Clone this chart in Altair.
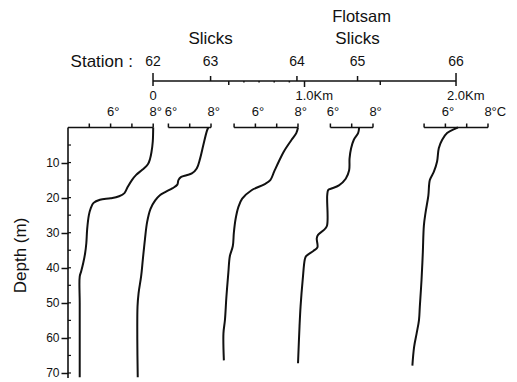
import altair as alt
import pandas as pd

# ------------------------------------------------------------------ data
STATIONS = ["62", "63", "64", "65", "66"]
STATION_KM = [0.0, 0.38, 0.95, 1.35, 2.0]

DEPTH_62 = [0, 4, 7, 9, 10.5, 12, 13.5, 15, 17, 18.7, 19.6, 20.2, 20.6, 21.5, 23, 25, 29, 33, 36, 38.5, 41, 42.5, 50, 60, 71.2]
TEMP_62 = [8.0, 7.98, 7.92, 7.85, 7.75, 7.5, 7.2, 7.0, 6.8, 6.65, 6.4, 6.0, 5.5, 5.2, 5.07, 4.98, 4.9, 4.86, 4.8, 4.72, 4.62, 4.55, 4.55, 4.55, 4.55]

DEPTH_63 = [0, 1.1, 5, 8.8, 11.7, 13.1, 13.6, 14.1, 15.0, 16.3, 17.3, 18.4, 19.3, 20.8, 23.2, 27, 31.8, 37.6, 42.4, 47.2, 51, 60.6, 71.2]
TEMP_63 = [7.87, 7.8, 7.64, 7.49, 7.33, 7.1, 6.85, 6.6, 6.47, 6.42, 6.2, 5.85, 5.6, 5.38, 5.16, 5.0, 4.9, 4.8, 4.72, 4.6, 4.55, 4.54, 4.56]

DEPTH_64 = [0, 1.6, 3.5, 6.9, 9.7, 12.6, 15, 16.2, 17.9, 20.3, 22.7, 26.1, 29.9, 33.8, 36.7, 41.4, 48.2, 54.9, 58.7, 66.4]
TEMP_64 = [8.0, 7.92, 7.7, 7.33, 7.1, 6.88, 6.7, 6.42, 5.82, 5.38, 5.2, 5.07, 4.99, 4.94, 4.8, 4.73, 4.64, 4.57, 4.5, 4.52]

DEPTH_65 = [0, 1.6, 3.5, 6, 8.8, 12.2, 14.6, 16.5, 17.4, 17.8, 19.4, 28, 29.2, 30.6, 31.6, 34.2, 35.2, 36.7, 37.6, 43.4, 51, 56.8, 67.2]
TEMP_65 = [7.35, 7.3, 7.1, 6.97, 6.9, 6.88, 6.72, 6.4, 6.05, 5.9, 5.85, 5.84, 5.7, 5.42, 5.36, 5.39, 5.2, 4.86, 4.8, 4.7, 4.6, 4.55, 4.48]

DEPTH_66 = [0, 0.3, 1.6, 3.5, 5.9, 9.7, 12.6, 15, 19.4, 24.2, 28, 35.7, 43.4, 51, 54.9, 58.7, 62.6, 67.9]
TEMP_66 = [6.59, 6.47, 6.08, 5.85, 5.69, 5.61, 5.46, 5.27, 5.2, 5.07, 4.99, 4.94, 4.88, 4.8, 4.76, 4.65, 4.53, 4.45]

TEMP_AXIS_MIN = [4, 6, 5, 6, 5]
TEMP_AXIS_MAX = [8, 8, 8, 8, 8]
TEMP_TICKS = [[5, 6, 7, 8], [6, 7, 8], [5, 6, 7, 8], [6, 7, 8], [5, 6, 7, 8]]
TEMP_LABEL_VALUES = [6, 8]
TEMP_LABEL_TEXT = ["6°", "8°"]
LAST_LABEL_TEXT = ["6°", "8°C"]

DEPTH_TICKS = [10, 20, 30, 40, 50, 60, 70]
DEPTH_MINOR = [5, 10, 15, 20, 25, 30, 35, 40, 45, 50, 55, 60, 65, 70]

KM_END_TICKS = [0.0, 2.0]
KM_HALF_TICKS = [0.5, 1.5]
KM_ONE_TICK = [1.0]
KM_SMALL_TICKS = [0.6, 0.7, 0.8, 0.9]
KM_ZERO_LABEL = ["0"]
KM_LABEL_VALUES = [1.0, 2.0]
KM_LABEL_TEXT = ["1.0Km", "2.0Km"]

GROUP_LABELS = ["Slicks", "Slicks", "Flotsam"]
GROUP_STATION = [1, 3, 3]

# ------------------------------------------------------------------ layout
FONT = "Liberation Sans"
INK = "#111111"
PX_PER_DEG = 21.3
PLOT_W, PLOT_H = 432, 370
X_MAX = PLOT_W / PX_PER_DEG
Y_TOP, Y_BOTTOM = -34.07, 71.43
PX_PER_M = PLOT_H / (Y_BOTTOM - Y_TOP)
OFFSETS = [-4.0, -1.286, 2.798, 6.319, 11.718]
KM_ORIGIN = 3.991
KM_UNITS = 7.113
KM_AXIS_Y = -13.26
KM_LABEL_Y = -8.98
STATION_ROW_Y = -18.68
SLICKS_Y = -25.09
FLOTSAM_Y = -31.6
TEMP_LABEL_Y = -4.42
STATION_WORD_X = 3.05


def px(n):
    return n / PX_PER_M


def km_u(k):
    return KM_ORIGIN + KM_UNITS * k


XS = alt.Scale(domain=[0, X_MAX], nice=False, zero=False)
YS = alt.Scale(domain=[Y_TOP, Y_BOTTOM], reverse=True, nice=False, zero=False)
YAXIS = alt.Axis(values=DEPTH_TICKS, title="Depth (m)", domain=False, grid=False,
                 tickSize=7, tickWidth=1.5, tickColor=INK, labelColor=INK,
                 labelFont=FONT, labelFontSize=12, labelPadding=2,
                 titleFont=FONT, titleFontSize=17, titleFontWeight="normal",
                 titleColor=INK, titleAngle=270, titleX=-47.5, titleY=247,
                 titleAlign="center", titleBaseline="middle")


def X(f):
    return alt.X(f + ":Q", scale=XS, axis=None)


def Y(f):
    return alt.Y(f + ":Q", scale=YS, axis=YAXIS)


# ------------------------------------------------------------------ tables
depths = [DEPTH_62, DEPTH_63, DEPTH_64, DEPTH_65, DEPTH_66]
temps = [TEMP_62, TEMP_63, TEMP_64, TEMP_65, TEMP_66]
rows = []
for i, s in enumerate(STATIONS):
    for j, (d, t) in enumerate(zip(depths[i], temps[i])):
        rows.append({"station": s, "seq": j, "depth": d, "u": t + OFFSETS[i]})
curves = pd.DataFrame(rows)

taxis = pd.DataFrame([{"u": TEMP_AXIS_MIN[i] + OFFSETS[i], "u2": TEMP_AXIS_MAX[i] + OFFSETS[i], "y": 0}
                      for i in range(len(STATIONS))])
tticks = pd.DataFrame([{"u": t + OFFSETS[i], "y": 0, "y2": -px(4)}
                       for i in range(len(STATIONS)) for t in TEMP_TICKS[i]])
tlabels = pd.DataFrame([{"u": v + OFFSETS[i], "y": TEMP_LABEL_Y,
                         "label": (LAST_LABEL_TEXT if i == len(STATIONS) - 1 else TEMP_LABEL_TEXT)[k]}
                        for i in range(len(STATIONS)) for k, v in enumerate(TEMP_LABEL_VALUES)])

daxis = pd.DataFrame([{"u": 0, "y": 0, "y2": Y_BOTTOM}])
dminor = pd.DataFrame([{"u": 0, "u2": 3 / PX_PER_DEG, "y": d} for d in DEPTH_MINOR])

kaxis = pd.DataFrame([{"u": km_u(0), "u2": km_u(2.0), "y": KM_AXIS_Y}])
kt = []
for k in KM_END_TICKS:
    kt.append({"u": km_u(k), "y": KM_AXIS_Y - px(8), "y2": KM_AXIS_Y + px(5)})
for k in KM_HALF_TICKS:
    kt.append({"u": km_u(k), "y": KM_AXIS_Y, "y2": KM_AXIS_Y + px(4)})
for k in KM_ONE_TICK:
    kt.append({"u": km_u(k), "y": KM_AXIS_Y, "y2": KM_AXIS_Y + px(6)})
for k in KM_SMALL_TICKS:
    kt.append({"u": km_u(k), "y": KM_AXIS_Y, "y2": KM_AXIS_Y + px(1.5)})
for k in STATION_KM[1:4]:
    kt.append({"u": km_u(k), "y": KM_AXIS_Y - px(5), "y2": KM_AXIS_Y})
kticks = pd.DataFrame(kt)

kzero = pd.DataFrame([{"u": km_u(0), "y": KM_LABEL_Y, "label": KM_ZERO_LABEL[0]}])
klabels = pd.DataFrame([{"u": km_u(k), "y": KM_LABEL_Y, "label": t}
                        for k, t in zip(KM_LABEL_VALUES, KM_LABEL_TEXT)])
slabels = pd.DataFrame([{"u": km_u(k), "y": STATION_ROW_Y, "label": s}
                        for k, s in zip(STATION_KM, STATIONS)])
sword = pd.DataFrame([{"u": STATION_WORD_X, "y": STATION_ROW_Y, "label": "Station :"}])
glabels = pd.DataFrame([{"u": km_u(STATION_KM[GROUP_STATION[i]]),
                         "y": FLOTSAM_Y if GROUP_LABELS[i] == "Flotsam" else SLICKS_Y,
                         "label": GROUP_LABELS[i]} for i in range(len(GROUP_LABELS))])
slicks = glabels[glabels.label == "Slicks"]
flotsam = glabels[glabels.label == "Flotsam"]

# ------------------------------------------------------------------ layers
line = alt.Chart(curves).mark_line(color=INK, strokeWidth=2, interpolate="catmull-rom").encode(
    x=X("u"), y=Y("depth"), detail="station:N", order="seq:Q")


def hrule(df, w=1.6):
    return alt.Chart(df).mark_rule(color=INK, strokeWidth=w).encode(x=X("u"), x2="u2:Q", y=Y("y"))


def vrule(df, w=1.5):
    return alt.Chart(df).mark_rule(color=INK, strokeWidth=w).encode(x=X("u"), y=Y("y"), y2="y2:Q")


def text(df, size, align="center", dx=0):
    return alt.Chart(df).mark_text(font=FONT, fontSize=size, align=align, baseline="middle",
                                   dx=dx, color=INK).encode(x=X("u"), y=Y("y"), text="label:N")


chart = alt.layer(
    line,
    hrule(taxis), vrule(tticks),
    vrule(daxis, 1.6), hrule(dminor, 1.2),
    hrule(kaxis), vrule(kticks),
    text(tlabels, 13, "left", -3.6),
    text(kzero, 13), text(klabels, 13, "left", -9),
    text(slabels, 14), text(sword, 17, "right"),
    text(slicks, 17), text(flotsam, 16.5, "center", 4),
).properties(
    width=PLOT_W, height=PLOT_H,
    autosize=alt.AutoSizeParams(type="none"),
    padding={"left": 60, "top": 0, "right": 9, "bottom": 4},
    background="white",
).configure_view(stroke=None)

chart.save("out.html", embed_options={"renderer": "svg", "actions": False})
